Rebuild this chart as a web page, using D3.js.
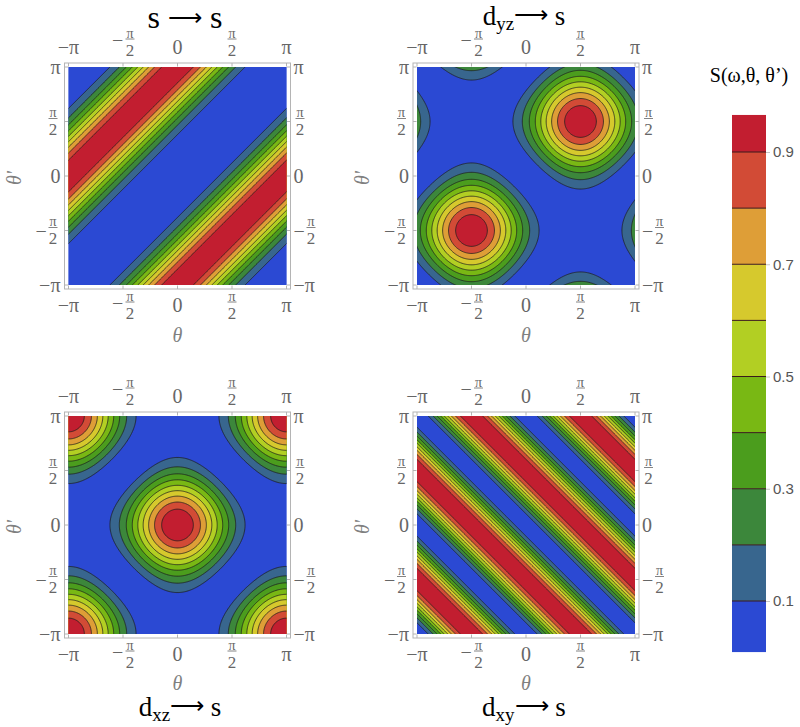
<!DOCTYPE html>
<html><head><meta charset="utf-8">
<script src="https://cdn.jsdelivr.net/npm/d3@7"></script>
<style>body{margin:0;background:#fff}svg{display:block}</style>
</head><body>
<svg id="chart" width="800" height="727"></svg>
<script>
// ---------- data ----------
const levels = [0, 0.1, 0.2, 0.3, 0.4, 0.5, 0.6, 0.7, 0.8, 0.9];
const bandColors = ["#2b49d3", "#38668e", "#3c873b", "#4b9d1d", "#79b814", "#b2cf23", "#d6c92d", "#de9e37", "#d24b36", "#c21e30"];
const tickValues = [-Math.PI, -Math.PI / 2, 0, Math.PI / 2, Math.PI];
const tickLabels = ["−π", "−π/2", "0", "π/2", "π"];
const colorbarTicks = [0.1, 0.3, 0.5, 0.7, 0.9];
const colorbarRange = [0.009, 0.966];
const titleMain = ["s", "d", "d", "d"];
const titleSub = ["", "yz", "xz", "xy"];
// S(ω,θ,θ') models for the four transitions
const models = [
  (t, tp) => Math.pow((1 - Math.cos(tp - t)) / 2, 2),          // s -> s
  (t, tp) => Math.pow((Math.sin(t) + Math.sin(tp)) / 2, 2),    // dyz -> s
  (t, tp) => Math.pow((Math.cos(t) + Math.cos(tp)) / 2, 2),    // dxz -> s
  (t, tp) => Math.pow(Math.sin(t + tp), 2)                     // dxy -> s
];

// ---------- layout ----------
const SIZE = 218;
const layout = [
  {x0: 68.5, y0: 67, titleX: 185, titleY: 28, top: true},
  {x0: 417, y0: 67, titleX: 524, titleY: 25, top: true},
  {x0: 68.5, y0: 416, titleX: 180, titleY: 716, top: false},
  {x0: 417, y0: 416, titleX: 524, titleY: 716, top: false}
];
const serif = "'Liberation Serif','Times New Roman',serif";
const labelColor = "#666";

const svg = d3.select("#chart");
const defs = svg.append("defs");

const N = 240, PAD = 3, n = N + 2 * PAD, step = 2 * Math.PI / N;

function drawLabel(g, x, y, label, anchor, side) {
  const isFrac = label.indexOf("/2") >= 0;
  const neg = label[0] === "−";
  if (!isFrac) {
    g.append("text").attr("x", x).attr("y", y)
      .attr("text-anchor", anchor)
      .attr("dominant-baseline", side === "v" ? "central" : "alphabetic")
      .attr("font-family", serif).attr("font-size", 20).attr("fill", labelColor)
      .text(label);
    return;
  }
  const fracW = 9, minusW = 11, gap = 2;
  let fc, mx;
  if (anchor === "middle") {
    if (neg) { mx = x - 11; fc = x + 7; } else { fc = x; }
  } else if (anchor === "end") {
    fc = x - fracW / 2 - 3; mx = fc - fracW / 2 - gap - minusW;
  } else {
    if (neg) { mx = x; fc = x + minusW + gap + fracW / 2; } else { fc = x + fracW / 2 + 2; }
  }
  const ref = y;
  if (neg) {
    g.append("text").attr("x", mx).attr("y", side === "v" ? ref + 3 : ref + 8)
      .attr("dominant-baseline", side === "v" ? "central" : "alphabetic")
      .attr("font-family", serif).attr("font-size", 20).attr("fill", labelColor).text("−");
  }
  g.append("text").attr("x", fc).attr("y", ref - 1.5).attr("text-anchor", "middle")
    .attr("font-family", serif).attr("font-size", 14).attr("fill", labelColor).text("π");
  g.append("line").attr("x1", fc - 4.5).attr("x2", fc + 4.5).attr("y1", ref).attr("y2", ref)
    .attr("stroke", labelColor).attr("stroke-width", 0.8);
  g.append("text").attr("x", fc).attr("y", ref + 16.5).attr("text-anchor", "middle")
    .attr("font-family", serif).attr("font-size", 17).attr("fill", labelColor).text("2");
}

layout.forEach((L, k) => {
  const x0 = L.x0, x1 = L.x0 + SIZE, y0 = L.y0, y1 = L.y0 + SIZE;
  const xs = d3.scaleLinear().domain([-Math.PI, Math.PI]).range([x0, x1]);
  const ys = d3.scaleLinear().domain([-Math.PI, Math.PI]).range([y1, y0]);
  const g = svg.append("g");

  const values = new Float64Array(n * n);
  for (let j = 0; j < n; j++) {
    const tp = Math.PI - (j - PAD + 0.5) * step;
    for (let i = 0; i < n; i++) {
      const t = -Math.PI + (i - PAD + 0.5) * step;
      values[j * n + i] = models[k](t, tp);
    }
  }
  const contours = d3.contours().size([n, n]).thresholds(levels)(values);
  const proj = d3.geoTransform({
    point: function (gx, gy) {
      this.stream.point(xs(-Math.PI + (gx - PAD) * step), ys(Math.PI - (gy - PAD) * step));
    }
  });
  const path = d3.geoPath(proj);

  const clipId = "clip" + k;
  defs.append("clipPath").attr("id", clipId).append("rect")
    .attr("x", x0).attr("y", y0).attr("width", SIZE).attr("height", SIZE);
  const plot = g.append("g").attr("clip-path", `url(#${clipId})`);
  plot.append("rect").attr("x", x0).attr("y", y0).attr("width", SIZE).attr("height", SIZE)
    .attr("fill", bandColors[0]);
  plot.selectAll("path.band").data(contours).join("path").attr("class", "band")
    .attr("d", path).attr("fill", (d, i) => bandColors[i]).attr("stroke", "none");
  plot.selectAll("path.iso").data(contours.slice(1)).join("path").attr("class", "iso")
    .attr("d", path).attr("fill", "none").attr("stroke", "#1e1e1e")
    .attr("stroke-width", 0.9).attr("stroke-opacity", 0.85);

  // frame
  const fp = 4;
  g.append("rect").attr("x", x0 - fp).attr("y", y0 - fp)
    .attr("width", SIZE + 2 * fp).attr("height", SIZE + 2 * fp)
    .attr("fill", "none").attr("stroke", "#b4b4b4").attr("stroke-width", 1);
  const tk = g.append("g").attr("stroke", "#b4b4b4").attr("stroke-width", 1);
  tickValues.forEach(v => {
    tk.append("line").attr("x1", xs(v)).attr("x2", xs(v)).attr("y1", y0 - fp).attr("y2", y0 - fp + 3.5);
    tk.append("line").attr("x1", xs(v)).attr("x2", xs(v)).attr("y1", y1 + fp).attr("y2", y1 + fp - 3.5);
    tk.append("line").attr("y1", ys(v)).attr("y2", ys(v)).attr("x1", x0 - fp).attr("x2", x0 - fp + 3.5);
    tk.append("line").attr("y1", ys(v)).attr("y2", ys(v)).attr("x1", x1 + fp).attr("x2", x1 + fp - 3.5);
  });

  tickValues.forEach((v, i) => {
    const lab = tickLabels[i];
    const frac = lab.indexOf("/2") >= 0;
    drawLabel(g, xs(v), frac ? y0 - 28 : y0 - 13, lab, "middle", "h");
    drawLabel(g, xs(v), frac ? y1 + 17 : y1 + 27, lab, "middle", "h");
    drawLabel(g, x0 - 8, frac ? ys(v) - 3 : ys(v), lab, "end", "v");
    drawLabel(g, x1 + 7, frac ? ys(v) - 3 : ys(v), lab, "start", "v");
  });

  // axis labels
  g.append("text").attr("x", (x0 + x1) / 2).attr("y", L.top ? y1 + 57 : y1 + 56)
    .attr("text-anchor", "middle").attr("font-family", serif).attr("font-style", "italic")
    .attr("font-size", 20).attr("fill", "#808080").text("θ");
  g.append("text").attr("transform", `translate(${x0 - 55},${(y0 + y1) / 2 + 2}) rotate(-90)`)
    .attr("text-anchor", "middle").attr("dominant-baseline", "central")
    .attr("font-family", serif).attr("font-style", "italic")
    .attr("font-size", 20).attr("fill", "#808080").text("θ'");

  // title
  const tt = svg.append("text").attr("x", L.titleX).attr("y", L.titleY)
    .attr("text-anchor", "middle").attr("font-family", serif).attr("fill", "#000");
  if (titleSub[k] === "") {
    tt.attr("font-size", 32);
    tt.append("tspan").text(titleMain[k] + " ");
    tt.append("tspan").attr("font-size", 24).attr("dy", -2).text("⟶");
    tt.append("tspan").attr("dy", 2).text(" " + titleMain[k]);
  } else {
    tt.attr("font-size", 27);
    tt.append("tspan").text(titleMain[k]);
    tt.append("tspan").attr("font-size", 19).attr("dy", 5).text(titleSub[k]);
    tt.append("tspan").attr("font-size", 24).attr("dy", -7).text("⟶");
    tt.append("tspan").attr("dy", 2).text(" s");
  }
});

// ---------- colorbar ----------
const cbX = 732, cbW = 34;
const cy = d3.scaleLinear().domain([0.1, 0.9]).range([601, 152]);
const cb = svg.append("g");
const bandLo = levels.map(d => Math.max(d, colorbarRange[0]));
const bandHi = levels.map(d => Math.min(d + 0.1, colorbarRange[1]));
cb.selectAll("rect").data(levels).join("rect")
  .attr("x", cbX).attr("width", cbW)
  .attr("y", (d, i) => cy(bandHi[i])).attr("height", (d, i) => cy(bandLo[i]) - cy(bandHi[i]))
  .attr("fill", (d, i) => bandColors[i]);
cb.selectAll("line.sep").data(levels.slice(1)).join("line").attr("class", "sep")
  .attr("x1", cbX).attr("x2", cbX + cbW).attr("y1", d => cy(d)).attr("y2", d => cy(d))
  .attr("stroke", "#3a1a1a").attr("stroke-width", 1);
const ax = cb.append("g").attr("transform", `translate(${cbX + cbW},0)`)
  .call(d3.axisRight(cy).tickValues(colorbarTicks).tickSize(4).tickPadding(3).tickFormat(d3.format(".1f")));
ax.select(".domain").remove();
ax.selectAll(".tick line").attr("stroke", "#c8c8c8");
ax.selectAll(".tick text").attr("font-family", "'Liberation Sans',Arial,sans-serif")
  .attr("font-size", 15).attr("fill", "#555");
svg.append("text").attr("x", 749).attr("y", 82).attr("text-anchor", "middle")
  .attr("font-family", serif).attr("font-size", 20).attr("fill", "#000").text("S(ω,θ, θ’)");
</script>
</body></html>
